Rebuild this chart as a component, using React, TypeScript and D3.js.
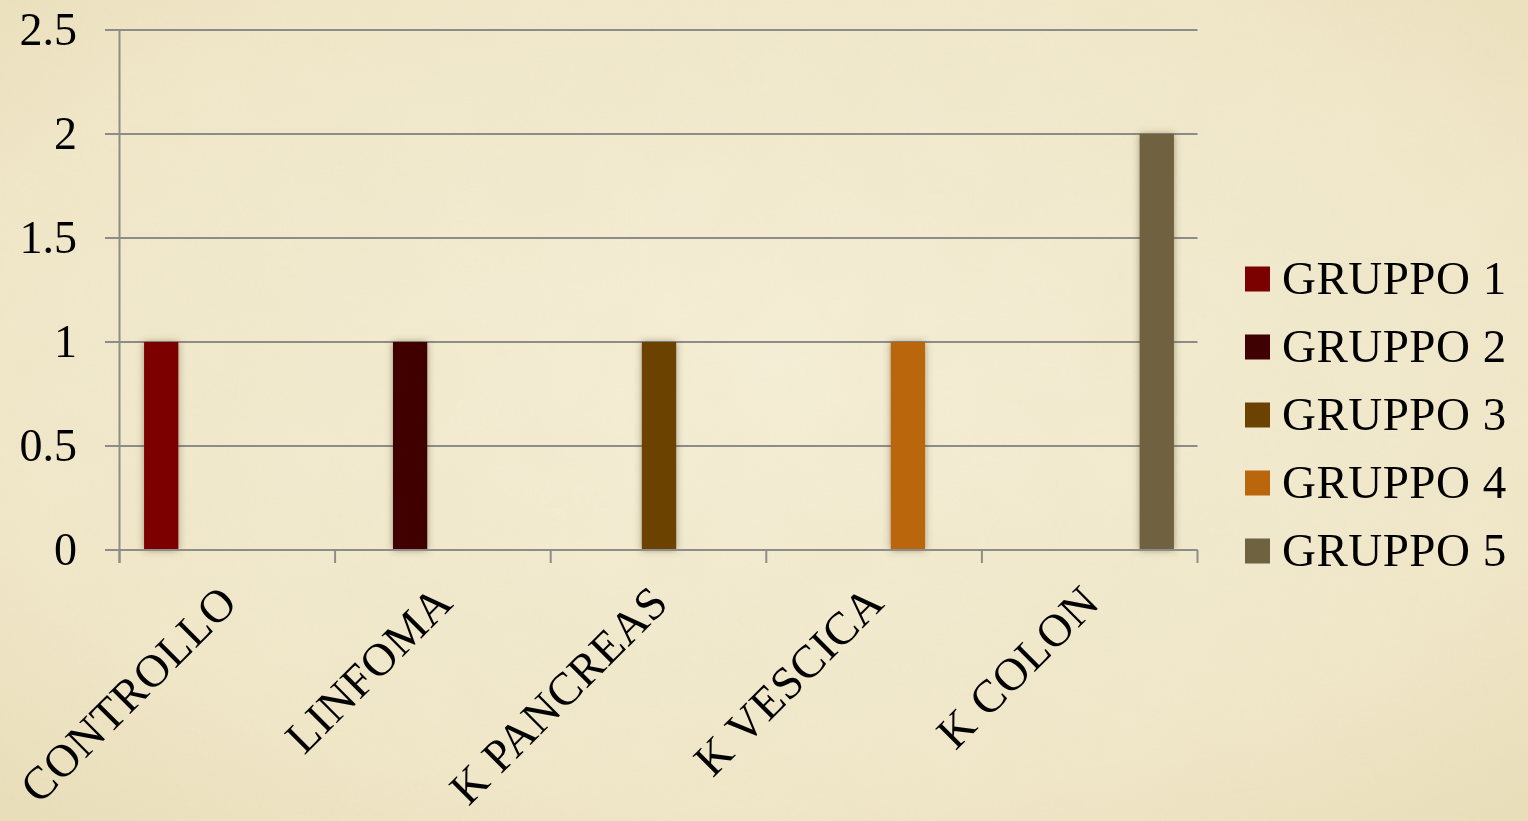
import React from "react";
import * as d3 from "d3";

const categories = ["CONTROLLO", "LINFOMA", "K PANCREAS", "K VESCICA", "K COLON"];
const seriesNames = ["GRUPPO 1", "GRUPPO 2", "GRUPPO 3", "GRUPPO 4", "GRUPPO 5"];
// values per series, one value per category
const gruppo1 = [1, 0, 0, 0, 0];
const gruppo2 = [0, 1, 0, 0, 0];
const gruppo3 = [0, 0, 1, 0, 0];
const gruppo4 = [0, 0, 0, 1, 0];
const gruppo5 = [0, 0, 0, 0, 2];
const seriesValues = [gruppo1, gruppo2, gruppo3, gruppo4, gruppo5];
const yTicks = [0, 0.5, 1, 1.5, 2, 2.5];
const seriesColors = ["#7b0000", "#3f0101", "#6c4203", "#b9660d", "#6f6240"];

const W = 1528;
const H = 821;
const left = 119.5;
const right = 1197.5;
const top = 30;
const bottom = 550;
const FONT = "'Liberation Serif', 'Times New Roman', serif";

export default function App() {
  const y = d3.scaleLinear().domain([0, 2.5]).range([bottom, top]);
  const x0 = d3.scaleBand<string>().domain(categories).range([left, right]).padding(0);
  const bw = x0.bandwidth();
  const gap = bw * 0.228;
  const x1 = d3
    .scaleBand<number>()
    .domain(seriesNames.map((_, i) => i))
    .range([gap / 2, bw - gap / 2])
    .padding(0);
  const barW = x1.bandwidth() + 1;
  const boundaries = [...categories.map((c) => x0(c) as number), right];

  const legendY0 = 279;
  const legendStep = 68;

  return (
    <div style={{ position: "fixed", left: 0, top: 0, width: W, height: H }}>
      <svg width={W} height={H} style={{ display: "block" }}>
        <defs>
          <radialGradient id="bg" cx="50%" cy="45%" r="75%">
            <stop offset="0%" stopColor="#f4eed6" />
            <stop offset="70%" stopColor="#f0e7c9" />
            <stop offset="100%" stopColor="#e8ddb8" />
          </radialGradient>
          <filter id="paper" x="0" y="0" width="100%" height="100%">
            <feTurbulence type="fractalNoise" baseFrequency="0.012" numOctaves="4" seed="3" result="n" />
            <feColorMatrix
              in="n"
              type="matrix"
              values="0 0 0 0 0.80  0 0 0 0 0.72  0 0 0 0 0.50  0 0 0 0.35 -0.08"
            />
          </filter>
          <filter id="shadow" x="-50%" y="-10%" width="200%" height="120%">
            <feDropShadow dx="0" dy="0" stdDeviation="3.5" floodColor="#4a3c1c" floodOpacity="0.5" />
          </filter>
        </defs>
        <rect x={0} y={0} width={W} height={H} fill="url(#bg)" />
        <rect x={0} y={0} width={W} height={H} filter="url(#paper)" opacity={0.6} />

        {yTicks.map((t) => (
          <line key={"g" + t} x1={105} x2={right} y1={y(t)} y2={y(t)} stroke="#8e8c88" strokeWidth={2} />
        ))}
        <line x1={left} x2={left} y1={top} y2={bottom + 13} stroke="#8e8c88" strokeWidth={2} />
        {boundaries.map((b, i) => (
          <line key={"xt" + i} x1={b} x2={b} y1={bottom} y2={bottom + 13} stroke="#8e8c88" strokeWidth={2} />
        ))}

        {seriesValues.map((vals, s) =>
          vals.map((v, c) =>
            v > 0 ? (
              <rect
                key={`b${s}-${c}`}
                x={(x0(categories[c]) as number) + (x1(s) as number)}
                y={y(v)}
                width={barW}
                height={y(0) - y(v)}
                fill={seriesColors[s]}
                filter="url(#shadow)"
              />
            ) : null
          )
        )}
        <line x1={105} x2={right} y1={y(0)} y2={y(0)} stroke="#8e8c88" strokeWidth={2} />

        {yTicks.map((t) => (
          <text
            key={"yl" + t}
            x={77}
            y={y(t) + 15}
            textAnchor="end"
            fontFamily={FONT}
            fontSize={46}
            fill="#000"
          >
            {String(t)}
          </text>
        ))}

        {categories.map((c) => {
          const cx = (x0(c) as number) + bw / 2;
          return (
            <text
              key={"xl" + c}
              transform={`translate(${cx + 12},${605}) rotate(-45)`}
              textAnchor="end"
              fontFamily={FONT}
              fontSize={46}
              letterSpacing={0.5}
              fill="#000"
            >
              {c}
            </text>
          );
        })}

        {seriesNames.map((n, i) => (
          <g key={"lg" + n} transform={`translate(1245,${legendY0 + i * legendStep})`}>
            <rect x={0} y={-12.5} width={25} height={25} fill={seriesColors[i]} />
            <text x={37} y={15} fontFamily={FONT} fontSize={47} letterSpacing={0.5} fill="#000">
              {n}
            </text>
          </g>
        ))}
      </svg>
    </div>
  );
}
